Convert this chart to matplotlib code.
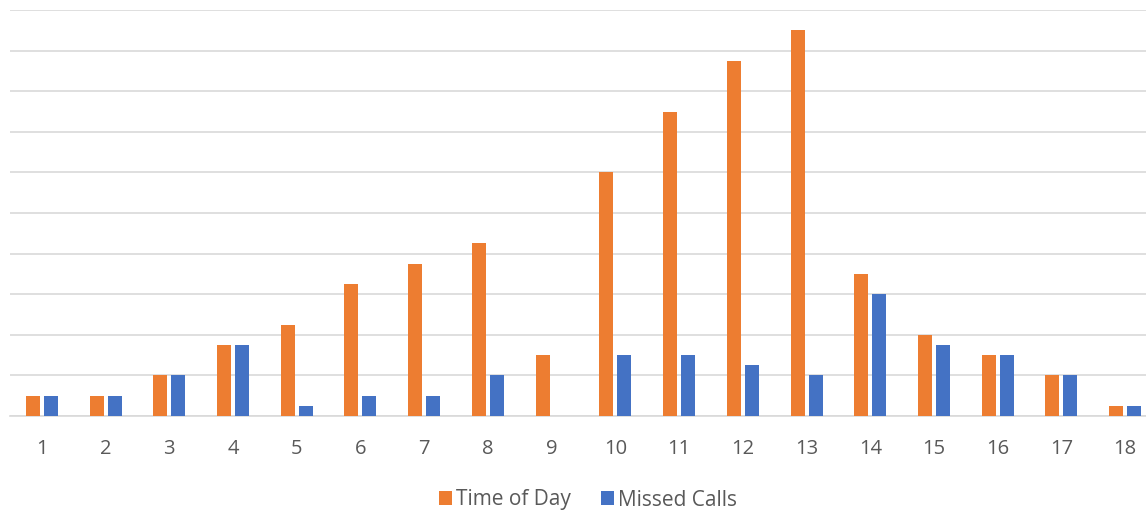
import matplotlib
matplotlib.use("Agg")
import matplotlib.pyplot as plt
import numpy as np

categories = [str(i) for i in range(1, 19)]
time_of_day = [1, 1, 2, 3.5, 4.5, 6.5, 7.5, 8.5, 3, 12, 15, 17.5, 19, 7, 4, 3, 2, 0.5]
missed_calls = [1, 1, 2, 3.5, 0.5, 1, 1, 2, 0, 3, 3, 2.5, 2, 6, 3.5, 3, 2, 0.5]

plt.rcParams['font.family'] = ['Open Sans', 'DejaVu Sans']

fig = plt.figure(figsize=(11.46, 5.14), dpi=100)
ax = fig.add_axes([10/1146, 1-416/514, (1157-10)/1146, (416-10)/514])

x = np.arange(len(categories))
w = 0.22
off = 0.141
ax.bar(x - off, time_of_day, w, color='#ED7D31', label='Time of Day', zorder=3)
ax.bar(x + off, missed_calls, w, color='#4472C4', label='Missed Calls', zorder=3)

ax.set_xlim(-0.5, len(categories) - 0.5)
ax.set_ylim(0, 20)
ax.set_yticks(np.arange(0, 21, 2))
ax.yaxis.grid(True, color='#d9d9d9', linewidth=1.2, zorder=0)
ax.tick_params(axis='y', left=False, labelleft=False)
ax.set_xticks(x)
ax.set_xticklabels(categories, fontsize=14.5, color='#595959')
ax.tick_params(axis='x', length=0, pad=16.5)
for s in ['top', 'right', 'left']:
    ax.spines[s].set_visible(False)
ax.spines['bottom'].set_color('#d9d9d9')
ax.spines['bottom'].set_linewidth(1.2)

handles, labels = ax.get_legend_handles_labels()
fig.legend(handles, labels, loc='center', bbox_to_anchor=(588/1146, 1-500/514), ncol=2,
           frameon=False, fontsize=15, labelcolor='#595959', handlelength=0.65, handleheight=0.65,
           handletextpad=0.2, columnspacing=1.4)

fig.savefig('out.png', dpi=100)
